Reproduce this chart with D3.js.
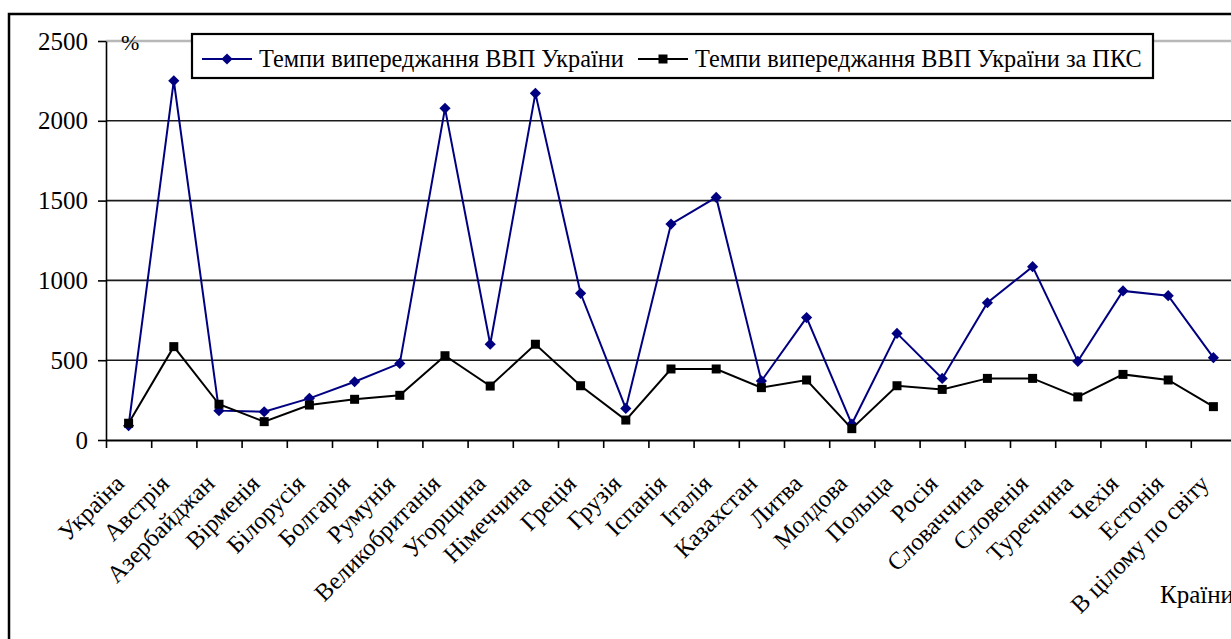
<!DOCTYPE html>
<html lang="uk">
<head>
    <meta charset="UTF-8">
    <title>Темпи випереджання ВВП України</title>
    <style>
        body{
            margin:0;
            background:#fff;
        }
        text{
            font-family:"Liberation Serif","Times New Roman",serif;
        }
    </style>
    <script src="https://cdn.jsdelivr.net/npm/d3@7/dist/d3.min.js"></script>
</head>
<body>
<div id ='container'>
</div>
</body>
<script>
    var countries = ['Україна', 'Австрія', 'Азербайджан', 'Вірменія', 'Білорусія', 'Болгарія', 'Румунія',
        'Великобританія', 'Угорщина', 'Німеччина', 'Греція', 'Грузія', 'Іспанія', 'Італія', 'Казахстан',
        'Литва', 'Молдова', 'Польща', 'Росія', 'Словаччина', 'Словенія', 'Туреччина', 'Чехія', 'Естонія',
        'В цілому по світу'];
    var gdpRate = [90, 2251, 184, 177, 261, 365, 480, 2078, 600, 2172, 919, 198, 1353, 1520, 370,
        767, 100, 668, 386, 860, 1086, 493, 934, 904, 516];
    var pppRate = [105, 585, 224, 115, 219, 255, 280, 528, 338, 600, 340, 125, 445, 445, 328,
        376, 71, 340, 317, 386, 386, 270, 411, 376, 209];
    var yTicks = [0, 500, 1000, 1500, 2000, 2500];
    var seriesNames = ['Темпи випереджання ВВП України', 'Темпи випереджання ВВП України за ПКС'];

    var w = 1231, h = 639,
        plotLeft = 106, plotTop = 41, plotBottom = 440, plotRight = 1236;

    var svg = d3.select('#container').append('svg').attr('width', w).attr('height', h);

    // outer chart frame, cropped by the picture on right and bottom
    svg.append('rect').attr('x', 9).attr('y', 14).attr('width', 1240).attr('height', 660)
        .attr('fill', 'none').attr('stroke', '#000').attr('stroke-width', 2.5);

    var xScale = d3.scaleBand().domain(countries).range([plotLeft, plotRight]),
        edgeScale = d3.scaleLinear().domain([0, countries.length]).range([plotLeft, plotRight]),
        yScale = d3.scaleLinear().domain([0, 2500]).range([plotBottom, plotTop]);

    // gridlines
    svg.append('g').selectAll('line').data(yTicks.filter(function (d) { return d > 0; })).enter().append('line')
        .attr('x1', plotLeft).attr('x2', w)
        .attr('y1', function (d) { return yScale(d); })
        .attr('y2', function (d) { return yScale(d); })
        .attr('stroke', function (d) { return d === 2500 ? '#b8b8b8' : '#1a1a1a'; })
        .attr('stroke-width', function (d) { return d === 2500 ? 2.5 : 1.6; });

    // y axis
    var yAxis = d3.axisLeft(yScale).tickValues(yTicks).tickFormat(d3.format('d'))
        .tickSizeInner(8).tickSizeOuter(0).tickPadding(10);
    var gy = svg.append('g').attr('transform', 'translate(' + plotLeft + ',0)').call(yAxis);
    gy.select('.domain').attr('stroke', '#000').attr('stroke-width', 1.6);
    gy.selectAll('.tick line').attr('stroke', '#000').attr('stroke-width', 1.6);
    gy.selectAll('.tick text').attr('font-size', '25px').attr('fill', '#000');

    // x axis: ticks at category edges, labels rotated
    var xEdges = d3.axisBottom(edgeScale).ticks(countries.length).tickFormat('').tickSizeInner(8).tickSizeOuter(0);
    var gx = svg.append('g').attr('transform', 'translate(0,' + plotBottom + ')').call(xEdges);
    gx.select('.domain').attr('stroke', '#000').attr('stroke-width', 1.8);
    gx.selectAll('.tick line').attr('stroke', '#000').attr('stroke-width', 1.6);

    svg.append('g').selectAll('text').data(countries).enter().append('text')
        .text(function (d) { return d; })
        .attr('transform', function (d) {
            return 'translate(' + (xScale(d) + xScale.bandwidth() / 2 - 3) + ',' + 485 + ') rotate(-45)';
        })
        .attr('text-anchor', 'end')
        .attr('font-size', '24.5px');

    // series lines
    var line = d3.line()
        .x(function (d, i) { return xScale(countries[i]) + xScale.bandwidth() / 2; })
        .y(function (d) { return yScale(d); });

    svg.append('path').datum(gdpRate).attr('d', line)
        .attr('fill', 'none').attr('stroke', '#000080').attr('stroke-width', 2);
    svg.append('g').selectAll('path').data(gdpRate).enter().append('path')
        .attr('d', d3.symbol().type(d3.symbolDiamond2).size(80))
        .attr('transform', function (d, i) {
            return 'translate(' + (xScale(countries[i]) + xScale.bandwidth() / 2) + ',' + yScale(d) + ')';
        })
        .attr('fill', '#000080');

    svg.append('path').datum(pppRate).attr('d', line)
        .attr('fill', 'none').attr('stroke', '#000').attr('stroke-width', 2);
    svg.append('g').selectAll('rect').data(pppRate).enter().append('rect')
        .attr('x', function (d, i) { return xScale(countries[i]) + xScale.bandwidth() / 2 - 4.5; })
        .attr('y', function (d) { return yScale(d) - 4.5; })
        .attr('width', 9).attr('height', 9)
        .attr('fill', '#000');

    // unit label and axis title
    svg.append('text').text('%').attr('x', 121).attr('y', 50).attr('font-size', '22px');
    svg.append('text').text('Країни').attr('x', 1160).attr('y', 603).attr('font-size', '25px');

    // legend
    var lg = svg.append('g');
    lg.append('rect').attr('x', 192).attr('y', 34).attr('width', 961).attr('height', 44)
        .attr('fill', '#fff').attr('stroke', '#000').attr('stroke-width', 2.2);
    var legendX = [202, 638];
    seriesNames.forEach(function (name, i) {
        var x0 = legendX[i], yy = 59;
        lg.append('line').attr('x1', x0).attr('x2', x0 + 50).attr('y1', yy).attr('y2', yy)
            .attr('stroke', i === 0 ? '#000080' : '#000').attr('stroke-width', 2);
        if (i === 0) {
            lg.append('path').attr('d', d3.symbol().type(d3.symbolDiamond2).size(80))
                .attr('transform', 'translate(' + (x0 + 25) + ',' + yy + ')').attr('fill', '#000080');
        } else {
            lg.append('rect').attr('x', x0 + 20.5).attr('y', yy - 4.5).attr('width', 9).attr('height', 9)
                .attr('fill', '#000');
        }
        lg.append('text').text(name).attr('x', x0 + 57).attr('y', yy + 8).attr('font-size', '24.3px');
    });
</script>
</html>
